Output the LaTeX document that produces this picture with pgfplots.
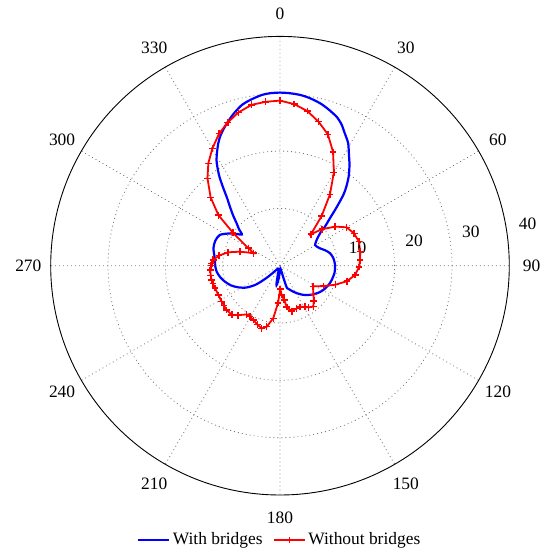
\documentclass[border=0pt]{standalone}
\usepackage{pgfplots}
\pgfplotsset{compat=1.18}
\usepgfplotslibrary{polar}
\usepackage{pgfplotstable}
\usepackage{fontspec}
\setmainfont{Liberation Serif}

\definecolor{bluecurve}{RGB}{0,0,255}
\definecolor{redcurve}{RGB}{255,0,0}

% radiation pattern, angle in degrees (0 = up, clockwise), radius in dB scale units
\pgfplotstableread{
deg r
0 30.2
3 30.15
6.7 30.0
10 29.7
13.8 29.2
17 28.6
20.8 27.8
23.5 26.9
26.1 25.7
29 24.5
31.5 23.0
34.5 21.4
37.5 19.7
40 18.0
41.8 16.6
44 14.3
46.5 12.0
49 10.4
51 9.0
55 7.8
59.4 7.1
62 7.2
66.5 7.6
71 8.3
76 9.0
82 9.4
89 9.6
97 9.6
105.5 9.36
112 9.1
119.3 8.66
125 8.2
130.7 7.66
136 7.1
141.5 6.5
147 5.8
152.9 5.1
158 4.5
162.5 4.1
164 2.5
166 1.0
172 0.5
180 0.6
185 2.0
189 3.3
191 3.3
194 1.5
200 0.6
215 0.6
224 1.5
227 2.8
230 4.3
232.3 5.5
237 7.0
242.6 8.2
248 9.2
253.8 10.0
259 10.6
264.6 11.1
270 11.3
276.5 11.45
284.6 12.0
291 12.1
297 11.8
302 10.6
305.5 9.6
309.3 8.6
311.5 9.5
314.4 10.6
317 12.0
319.7 13.5
322 15.0
323.8 16.7
326 19.0
329 21.5
333.2 23.9
336 25.2
339.5 26.5
343 27.7
346.6 28.8
350 29.4
353.9 29.95
357 30.15
360 30.2
}\withbridges

\pgfplotstableread{
deg r
0 28.8
5 28.3
10 27.4
15 26.0
20 24.4
25 21.9
30 18.8
35 15.2
40 11.3
44.5 7.7
49 9.7
54.7 11.8
60 13.4
66.5 14.1
73 14.4
80 14.2
86 14.0
91 13.8
97 13.2
103 12.0
109 10.2
115 8.4
122 6.8
130.7 7.7
136 8.5
140.9 9.2
145.8 8.8
148.6 8.4
154 8.0
158.6 8.0
165.5 8.2
170.7 7.3
173 6.0
176.7 5.1
179.5 4.1
183 6.5
187.3 9.25
192.3 10.9
196.3 11.4
201 11.0
206.2 10.55
210.5 10.3
214.4 10.3
220.2 11.3
224.4 12.0
230.3 12.1
234.5 12.0
238.3 11.95
244.6 11.9
251 12.0
255 12.1
258 12.2
262 12.2
266.5 12.2
270 12.0
272 11.9
275 11.7
279.3 10.8
284.4 9.4
289.3 7.4
295.5 5.1
299 6.3
305 10.0
309.4 13.9
314.6 17.0
320.3 19.8
325 21.8
330 23.6
335.3 25.4
340 26.6
344.8 27.7
350 28.5
355 28.7
360 28.8
}\withoutbridges

\begin{document}
\fontsize{17.4bp}{20bp}\selectfont
\begin{tikzpicture}
\begin{polaraxis}[
  name=ax, at={(0,0)}, anchor=center,
  scale only axis, width=458.6bp, height=458.6bp,
  xmin=0, xmax=360, ymin=0, ymax=40,
  xtick={0,30,...,330}, xticklabels={},
  ytick={10,20,30}, yticklabels={},
  major tick length=0pt,
  grid=major,
  major grid style={dash pattern=on 0.9bp off 3.1bp, black!55, line width=0.8bp},
  x axis line style={black, line width=0.9bp},
  y axis line style={draw=none},
  clip=false,
  legend columns=2,
  legend style={at={(0.5,-0.098)}, anchor=center, draw=none, fill=none,
    /tikz/every even column/.append style={column sep=8bp},
    nodes={inner xsep=2.5bp}},
  legend image code/.code={
    \draw[mark repeat=2,mark phase=2,#1] plot coordinates {(0bp,0bp) (15.5bp,0bp) (31bp,0bp)};
  },
]
\addplot[bluecurve, line width=2.2bp, no markers, smooth, tension=0.45]
  table[x expr=90-\thisrow{deg}, y=r]{\withbridges};
\addlegendentry{With bridges}
\addplot[redcurve, line width=1.8bp, mark=+, mark size=3.4bp,
  mark options={line width=1.5bp}]
  table[x expr=90-\thisrow{deg}, y=r]{\withoutbridges};
\addlegendentry{Without bridges}

\coordinate (c) at (axis cs:0,0);
% angular labels (compass convention)
\node at (axis cs:90,43.9) {0};
\node at (axis cs:60,43.9) {30};
\node at (axis cs:30,43.9) {60};
\node at (axis cs:0,43.9) {90};
\node at (axis cs:-30,43.9) {120};
\node at (axis cs:-60,43.9) {150};
\node at (axis cs:-90,43.9) {180};
\node at (axis cs:-120,43.9) {210};
\node at (axis cs:-150,43.9) {240};
\node at (axis cs:-180,43.9) {270};
\node at (axis cs:-210,43.9) {300};
\node at (axis cs:-240,43.9) {330};
% radial labels
\node at (axis cs:13,13.9) {10};
\node at (axis cs:10.5,23.8) {20};
\node at (axis cs:10,33.8) {30};
\node at (axis cs:9.6,43.8) {40};
\end{polaraxis}
\pgfresetboundingbox
\path ([shift={(-280bp,-289.3bp)}]c) rectangle ([shift={(265bp,265.7bp)}]c);
\end{tikzpicture}
\end{document}
